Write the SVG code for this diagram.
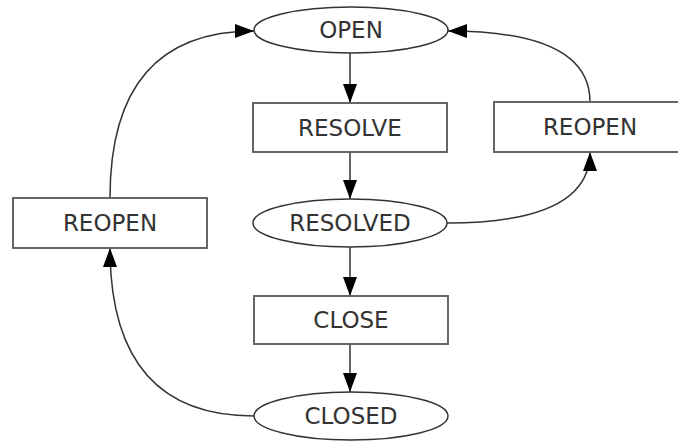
<svg xmlns="http://www.w3.org/2000/svg" width="678" height="442" viewBox="0 0 678 442">
<style>
.box{fill:#fff;stroke:#666;stroke-width:2}
.ell{fill:#fff;stroke:#333;stroke-width:1.5}
.lbl{font-family:"DejaVu Sans",Verdana,sans-serif;font-size:23px;fill:#333;text-anchor:middle}
.edge{fill:none;stroke:#333;stroke-width:1.5}
</style>
<defs>
<marker id="arr" viewBox="0 0 19 14" refX="19" refY="7" markerWidth="19" markerHeight="14" markerUnits="userSpaceOnUse" orient="auto">
<path d="M0,0 L19,7 L0,14 Z" fill="#000"/>
</marker>
</defs>
<rect width="678" height="442" fill="#fff"/>
<g id="connectors">
<path class="edge" d="M350,53 L350,103" marker-end="url(#arr)"/>
<path class="edge" d="M350,152 L350,199" marker-end="url(#arr)"/>
<path class="edge" d="M350,247 L350,296" marker-end="url(#arr)"/>
<path class="edge" d="M350,344 L350,392" marker-end="url(#arr)"/>
<path class="edge" d="M110,198 Q110,31 254,31" marker-end="url(#arr)"/>
<path class="edge" d="M590,102 Q590,31 448,31" marker-end="url(#arr)"/>
<path class="edge" d="M447,223 Q590,223 590,152" marker-end="url(#arr)"/>
<path class="edge" d="M254,416 Q110,416 110,248" marker-end="url(#arr)"/>
</g>
<g id="open">
<ellipse class="ell" cx="351" cy="30" rx="97" ry="23"/>
<text class="lbl" x="351" y="38">OPEN</text>
</g>
<g id="resolve">
<rect class="box" x="253" y="103" width="194" height="49"/>
<text class="lbl" x="350" y="136">RESOLVE</text>
</g>
<g id="resolved">
<ellipse class="ell" cx="350" cy="223" rx="97" ry="24"/>
<text class="lbl" x="350" y="231">RESOLVED</text>
</g>
<g id="close">
<rect class="box" x="254" y="296" width="194" height="48"/>
<text class="lbl" x="351" y="328">CLOSE</text>
</g>
<g id="closed">
<ellipse class="ell" cx="351" cy="416" rx="97" ry="24"/>
<text class="lbl" x="351" y="424">CLOSED</text>
</g>
<g id="reopen-left">
<rect class="box" x="13" y="198" width="194" height="50"/>
<text class="lbl" x="110" y="231">REOPEN</text>
</g>
<g id="reopen-right">
<rect class="box" x="494" y="102" width="194" height="50"/>
<text class="lbl" x="590" y="135">REOPEN</text>
</g>
</svg>
